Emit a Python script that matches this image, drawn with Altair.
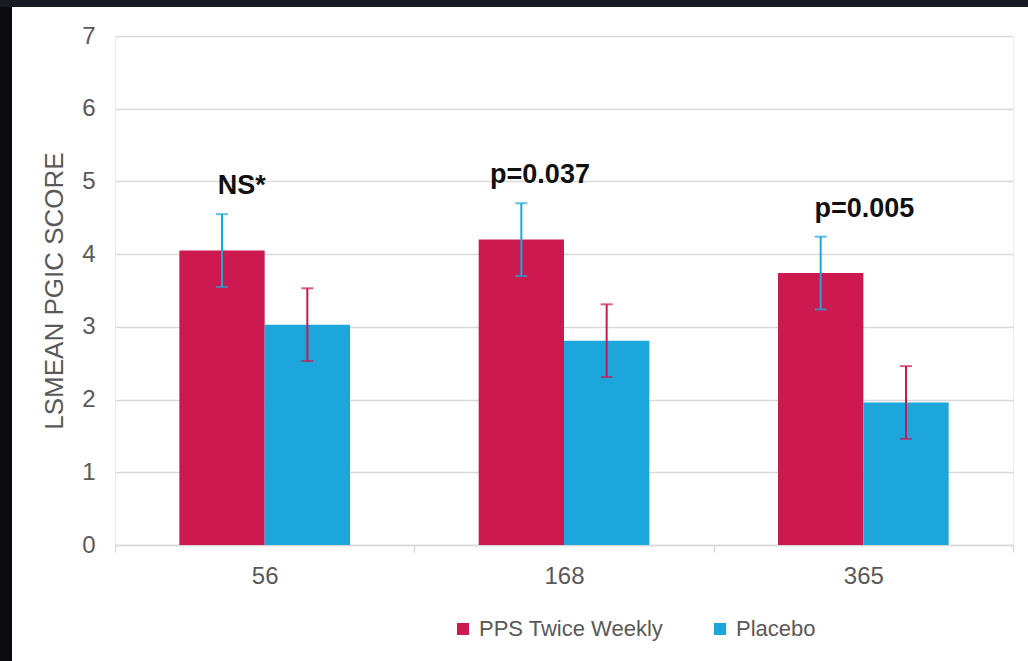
import altair as alt
import pandas as pd

# ---- values ---------------------------------------------------------------
days = ["56", "168", "365"]
series = ["PPS Twice Weekly", "Placebo"]
pps_mean = [4.05, 4.20, 3.74]
placebo_mean = [3.03, 2.81, 1.96]
pps_err = [0.5, 0.5, 0.5]
placebo_err = [0.5, 0.5, 0.5]
p_labels = ["NS*", "p=0.037", "p=0.005"]

# ---- styles ---------------------------------------------------------------
CRIMSON = "#CC1A51"
BLUE = "#1DA6DC"
GREY_TEXT = "#595959"
GRID = "#D9D9D9"
FONT = "Liberation Sans"
label_dx = [-23, -24, 1]  # horizontal nudge of each p-value label

rows = []
for i, d in enumerate(days):
    rows.append({"day": d, "group": series[0], "mean": pps_mean[i], "err": pps_err[i]})
    rows.append({"day": d, "group": series[1], "mean": placebo_mean[i], "err": placebo_err[i]})
df = pd.DataFrame(rows)
df["lo"] = df["mean"] - df["err"]
df["hi"] = df["mean"] + df["err"]

ann = pd.DataFrame({
    "day": days,
    "label": p_labels,
    "top": [m + e for m, e in zip(pps_mean, pps_err)],
})

x_axis = alt.Axis(
    title=None, labelAngle=0, labelFont=FONT, labelFontSize=24, labelColor=GREY_TEXT,
    labelPadding=12, domainColor=GRID, domainWidth=1.5, tickColor=GRID, tickWidth=1.5,
    tickSize=7, tickBand="extent", grid=False,
)
y_axis = alt.Axis(
    values=list(range(8)), title="LSMEAN PGIC SCORE", titleFont=FONT, titleFontSize=26,
    titleFontWeight="normal", titleColor=GREY_TEXT, titlePadding=14,
    labelFont=FONT, labelFontSize=24, labelColor=GREY_TEXT, labelPadding=20,
    ticks=False, domain=False, gridColor=GRID, gridWidth=1.5,
)
y_scale = alt.Scale(domain=[0, 7], nice=False)


def x_enc():
    return alt.X("day:N", sort=days, scale=alt.Scale(paddingInner=0, paddingOuter=0), axis=x_axis)


def xoff_enc():
    return alt.XOffset("group:N", sort=series,
                       scale=alt.Scale(domain=series, paddingInner=0, paddingOuter=0.754))


def y_enc(field):
    return alt.Y(f"{field}:Q", scale=y_scale, axis=y_axis)


base = alt.Chart(df)

bars = base.mark_bar().encode(
    x=x_enc(), xOffset=xoff_enc(), y=y_enc("mean"),
    color=alt.Color(
        "group:N", sort=series,
        scale=alt.Scale(domain=series, range=[CRIMSON, BLUE]),
        legend=alt.Legend(
            orient="none", legendX=337, legendY=582, direction="horizontal", title=None,
            symbolType="square", symbolSize=144, symbolStrokeWidth=0,
            labelFont=FONT, labelFontSize=22, labelColor=GREY_TEXT, labelOffset=5,
            labelLimit=0, columnPadding=45,
        ),
    ),
)

# error bars: each series takes the other series' colour
err_layers = []
for grp, col in [(series[0], BLUE), (series[1], CRIMSON)]:
    sub = base.transform_filter(alt.datum.group == grp)
    err_layers.append(sub.mark_rule(strokeWidth=2, color=col).encode(
        x=x_enc(), xOffset=xoff_enc(), y=y_enc("lo"), y2="hi:Q"))
    for end in ["lo", "hi"]:
        err_layers.append(sub.mark_tick(thickness=2, size=12, color=col).encode(
            x=x_enc(), xOffset=xoff_enc(), y=y_enc(end)))

# p-value annotations above each pair
ann_layers = []
for d, dx in zip(days, label_dx):
    ann_layers.append(
        alt.Chart(ann).transform_filter(alt.datum.day == d).mark_text(
            font=FONT, fontSize=27, fontWeight="bold", color="#111111",
            align="center", baseline="alphabetic", dx=dx, dy=-20,
        ).encode(x=x_enc(), y=y_enc("top"), text="label:N")
    )

# dark frame strips along the top and left edges
one = pd.DataFrame({"k": [0]})
frame_left = alt.Chart(one).mark_rect(color="#0A0B0F").encode(
    x=alt.value(-115), x2=alt.value(-103), y=alt.value(-36), y2=alt.value(625))
frame_top = alt.Chart(one).mark_rect(color="#181A24").encode(
    x=alt.value(-115), x2=alt.value(913), y=alt.value(-36), y2=alt.value(-29))

chart = alt.layer(
    bars, *err_layers, *ann_layers, frame_left, frame_top
).properties(
    width=898, height=509,
    autosize=alt.AutoSizeParams(type="none"),
    padding={"left": 115, "top": 36, "right": 15, "bottom": 116},
    background="white",
).configure_view(
    stroke="#EAF0F0", strokeWidth=1,
)

chart.save("out.html", embed_options={"renderer": "svg", "actions": False})
